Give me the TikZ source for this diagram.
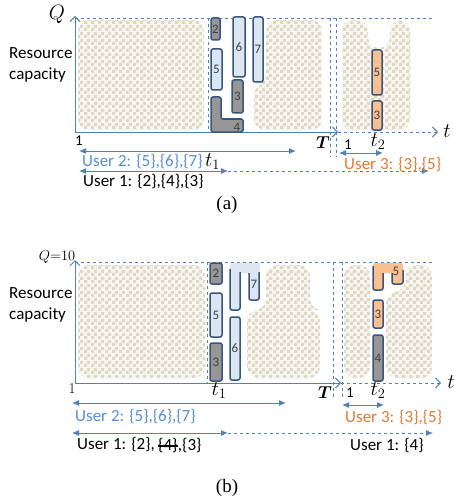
\documentclass[tikz,border=0pt]{standalone}
\usepackage{amsmath,amssymb}
\usepackage{fontspec}
\setsansfont{Carlito}
\newfontfamily\capfont{Liberation Serif}
\usepackage{tikz}
\usetikzlibrary{arrows.meta,patterns,positioning}
\definecolor{axisblue}{RGB}{79,129,189}
\definecolor{edgeblue}{RGB}{55,85,125}
\definecolor{fillblue}{RGB}{220,230,242}
\definecolor{fillgray}{RGB}{150,150,150}
\definecolor{fillorange}{RGB}{250,191,143}
\definecolor{txtorange}{RGB}{230,120,50}
\definecolor{txtblue}{RGB}{85,142,213}
\definecolor{chk}{RGB}{221,215,199}
\definecolor{chkbg}{RGB}{248,246,238}
% checker for the busy areas
\pgfdeclarepatternformonly{busychk}{\pgfpointorigin}{\pgfqpoint{7pt}{7pt}}{\pgfqpoint{7pt}{7pt}}{%
  \pgfpathrectangle{\pgfpointorigin}{\pgfqpoint{3.5pt}{3.5pt}}%
  \pgfpathrectangle{\pgfqpoint{3.5pt}{3.5pt}}{\pgfqpoint{3.5pt}{3.5pt}}%
  \pgfusepath{fill}}

\begin{document}
\begin{tikzpicture}[x=1pt, y=-1pt,
  axis/.style={draw=axisblue, line width=1pt, -{Straight Barb[length=5pt,width=10pt]}},
  guide/.style={draw=axisblue, dashed, line width=0.6pt},
  span/.style={draw=axisblue, line width=1pt, {Latex[length=7pt,width=6pt]}-{Latex[length=7pt,width=6pt]}},
  spandash/.style={draw=axisblue, line width=1pt, dashed, -{Latex[length=7pt,width=6pt]}},
  chkarea/.style={preaction={fill=chkbg}, pattern=busychk, pattern color=chk, rounded corners=11pt},
  box/.style={draw=edgeblue, line width=1.5pt, rounded corners=2pt, inner sep=0pt, text=black!75, font=\sffamily\fontsize{13}{13}\selectfont},
  graybox/.style={box, fill=fillgray},
  bluebox/.style={box, fill=fillblue},
  orangebox/.style={box, fill=fillorange},
  size/.style 2 args={minimum width=#1, minimum height=#2},
  edge/.style={draw=edgeblue, line width=1.5pt, rounded corners=2pt},
  num/.style={font=\sffamily\fontsize{13}{13}\selectfont, text=black!75, inner sep=0pt},
  lbl/.style={font=\sffamily\fontsize{17}{21}\selectfont, align=left, anchor=west, inner sep=0pt},
  usr/.style={font=\sffamily\fontsize{17}{19}\selectfont, anchor=west, inner sep=0pt},
  mathlbl/.style={font=\fontsize{21}{22}\selectfont, inner sep=0pt},
  small/.style={font=\sffamily\fontsize{15}{16}\selectfont, inner sep=0pt},
  caption/.style={font=\capfont\fontsize{19}{20}\selectfont}
]
\useasboundingbox (0,0) rectangle (454,500);

%% ---------------- (a) ----------------
% busy areas
\fill[chkarea] (78,20) rectangle (204,130);
\fill[chkarea] (266,20) -- (322,20) -- (322,130) -- (254,130) -- (254,84) -- (266,84) -- cycle;
\fill[chkarea] (342,20) -- (368,20) -- (368,48) -- (390,48) -- (390,20) -- (410,20) -- (410,130) -- (342,130) -- cycle;

% guides
\coordinate (aqtop) at (75,18);
\coordinate (aqend) at (432,18);
\draw[guide] (aqtop) -- (aqend);
\draw[guide] (208,18) -- (208,132);
\draw[guide] (330,18) -- (330,157);
\draw[guide] (336,18) -- (336,157);

% axes
\coordinate (ao) at (75,132);
\coordinate (aq) at (75,16);
\coordinate (aT) at (338,132);
\coordinate (at) at (438,132);
\draw[axis] (ao) -- (aq);
\draw[axis] (ao) -- (aT);
\draw[axis, dashed] (aT) -- (at);

% jobs
\node[graybox, size={9}{22}] (a2) at (215.5,29) {2};
\node[bluebox, size={11}{41}] (a5) at (216.5,69.5) {5};
\filldraw[edge, fill=fillgray] (211,97) -- (221,97) -- (221,119) -- (243,119) -- (243,132) -- (211,132) -- cycle;
\node[num] (a4) at (237,127) {4};
\node[bluebox, size={12}{60}] (a6) at (239,47) {6};
\node[graybox, size={11}{33}] (a3) at (237.5,96.5) {3};
\node[bluebox, size={10}{65}] (a7) at (258,49.5) {7};
\node[orangebox, size={10}{45}] (a5b) at (377,72.5) {5};
\node[orangebox, size={10}{29}] (a3b) at (377,115.5) {3};

% labels
\node[mathlbl] (aQ) at (57,14) {$Q$};
\node[lbl] (ares) at (9,65) {Resource\\capacity};
\node[small] (a1) at (79,141) {1};
\node[font=\fontsize{17}{17}\selectfont, inner sep=0pt] (aTl) at (323,143) {$\boldsymbol{T}$};
\node[small] (a1r) at (348,145) {1};
\node[mathlbl] (at2) at (378,142) {$t_2$};
\node[mathlbl] (atl) at (447,131) {$t$};

% users
\coordinate (au2a) at (79,151);
\coordinate (au2b) at (296,151);
\draw[span] (au2a) -- (au2b);
\node[usr, text=txtblue] (au2) at (82,162) {User 2: \{5\},\{6\},\{7\}};
\node[mathlbl, right=2pt of au2] (at1) {$t_1$};
\coordinate (au1a) at (79,171);
\coordinate (au1m) at (228,171);
\coordinate (au1b) at (429,171);
\draw[span] (au1a) -- (au1m);
\draw[spandash] (au1m) -- (au1b);
\node[usr] (au1) at (83,182) {User 1: \{2\},\{4\},\{3\}};
\coordinate (au3a) at (339,153);
\coordinate (au3b) at (383,153);
\draw[span] (au3a) -- (au3b);
\node[usr, text=txtorange] (au3) at (344,165) {User 3: \{3\},\{5\}};
\node[caption] (capa) at (227,205) {(a)};

%% ---------------- (b) ----------------
% busy areas
\fill[chkarea] (78,265) rectangle (205,378);
\fill[chkarea] (266,265) -- (310,265) -- (310,310) -- (320,310) -- (320,378) -- (247,378) -- (247,310) -- (266,310) -- cycle;
\fill[chkarea] (344,265) rectangle (370,378);
\fill[chkarea] (405,265) -- (432,265) -- (432,378) -- (386,378) -- (386,292) -- (405,292) -- cycle;

% guides
\coordinate (bqtop) at (75,262);
\coordinate (bqend) at (432,262);
\draw[guide] (bqtop) -- (bqend);
\draw[guide] (207,262) -- (207,383);
\draw[guide] (333,262) -- (333,398);
\draw[guide] (342,262) -- (342,398);

% axes
\coordinate (bo) at (75,383);
\coordinate (bq) at (75,260);
\coordinate (bT) at (341,383);
\coordinate (bt) at (441,383);
\draw[axis] (bo) -- (bq);
\draw[axis] (bo) -- (bT);
\draw[axis, dashed] (bT) -- (bt);

% jobs
\node[graybox, size={12}{21}] (b2) at (216,273.5) {2};
\node[bluebox, size={12}{44}] (b5) at (216,315) {5};
\node[graybox, size={12}{38}] (b3) at (216,362) {3};
\node[bluebox, size={10}{63}] (b6) at (235,348.5) {6};
\fill[fillblue, rounded corners=2pt] (230,263) -- (260,263) -- (260,300) -- (249,300) -- (249,273) -- (240,273) -- (240,310) -- (230,310) -- cycle;
\draw[edge] (230,269) -- (230,310) -- (240,310) -- (240,272);
\draw[edge] (249,273) -- (249,300) -- (259,300) -- (259,272);
\node[num] (b7) at (254,284) {7};
\fill[fillorange, rounded corners=2pt] (373,263) -- (403,263) -- (403,284) -- (392,284) -- (392,273) -- (383,273) -- (383,290) -- (373,290) -- cycle;
\draw[edge] (373,266) -- (373,290) -- (383,290) -- (383,273);
\draw[edge] (392,273) -- (392,284) -- (403,284) -- (403,270);
\node[num] (b5b) at (396,271) {5};
\node[orangebox, size={10}{28}] (b3b) at (378,314) {3};
\node[graybox, size={10}{46}] (b4b) at (378,358) {4};

% labels
\node[font=\fontsize{14}{14}\selectfont, inner sep=0pt] (bQ) at (57,257) {$Q{=}10$};
\node[lbl] (bres) at (9,305) {Resource\\capacity};
\node[font=\fontsize{15}{15}\selectfont, inner sep=0pt] (b1) at (72,389) {1};
\node[mathlbl] (bt1) at (219,391) {$t_1$};
\node[font=\fontsize{17}{17}\selectfont, inner sep=0pt] (bTl) at (325,393) {$\boldsymbol{T}$};
\node[small] (b1r) at (350,393) {1};
\node[mathlbl] (bt2) at (378,391) {$t_2$};
\node[mathlbl] (btl) at (451,382) {$t$};

% users
\coordinate (bu2a) at (72,403);
\coordinate (bu2b) at (286,403);
\draw[span] (bu2a) -- (bu2b);
\node[usr, text=txtblue] (bu2) at (75,417) {User 2: \{5\},\{6\},\{7\}};
\coordinate (bu1a) at (72,433);
\coordinate (bu1m) at (228,433);
\coordinate (bu1b) at (433,433);
\draw[span] (bu1a) -- (bu1m);
\draw[spandash] (bu1m) -- (bu1b);
\node[usr] (bu1) at (77,446) {User 1: \{2\},\strut};
\node[usr, right=3pt of bu1.east, anchor=west] (bu1x) {\{4\}};
\node[usr, right=0pt of bu1x.east, anchor=west] (bu1y) {,\{3\}};
\draw[line width=1.8pt] (bu1x.west) -- (bu1x.east);
\node[usr] (bu1r) at (350,446) {User 1: \{4\}};
\coordinate (bu3a) at (342,405);
\coordinate (bu3b) at (384,405);
\draw[span] (bu3a) -- (bu3b);
\node[usr, text=txtorange] (bu3) at (345,418) {User 3: \{3\},\{5\}};
\node[caption] (capb) at (227,488) {(b)};
\end{tikzpicture}
\end{document}
